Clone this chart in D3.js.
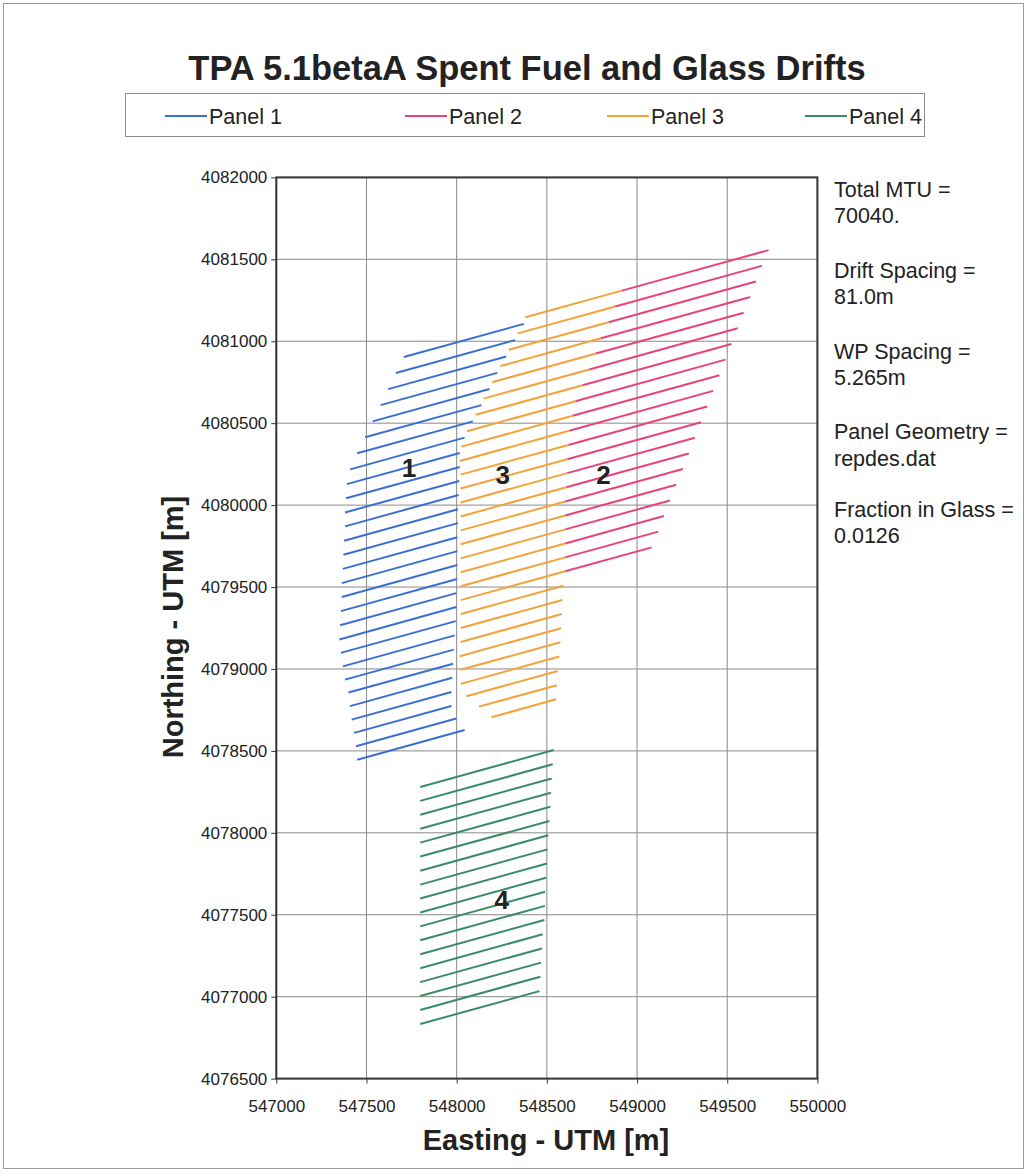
<!DOCTYPE html>
<html>
<head>
<meta charset="utf-8">
<script src="https://cdn.jsdelivr.net/npm/d3@7/dist/d3.min.js"></script>
<style>
  body { margin: 0; background: #fff; }
  svg { display: block; font-family: "Liberation Sans", Arial, sans-serif; }
</style>
</head>
<body>
<svg id="chart" width="1027" height="1173"></svg>
<script>
//=============== data (Easting, Northing of each drift end) ===============
// [x1, y1, x2, y2]
const panel1 = [
	[547707, 4080904, 548372, 4081106], [547663, 4080806, 548324, 4081007],
	[547620, 4080708, 548275, 4080907], [547578, 4080610, 548225, 4080807],
	[547534, 4080511, 548182, 4080709], [547492, 4080414, 548137, 4080610],
	[547449, 4080316, 548090, 4080511], [547409, 4080218, 548044, 4080412],
	[547391, 4080128, 548017, 4080318], [547387, 4080042, 548017, 4080233],
	[547381, 4079955, 548014, 4080147], [547381, 4079870, 548011, 4080062],
	[547376, 4079783, 548007, 4079975], [547372, 4079697, 548007, 4079890],
	[547369, 4079611, 548004, 4079804], [547363, 4079524, 548004, 4079719],
	[547363, 4079439, 548004, 4079634], [547358, 4079353, 548002, 4079549],
	[547354, 4079267, 547998, 4079463], [547350, 4079180, 547998, 4079378],
	[547358, 4079098, 547995, 4079292], [547369, 4079016, 547989, 4079205],
	[547381, 4078935, 547984, 4079118], [547400, 4078856, 547980, 4079032],
	[547409, 4078773, 547976, 4078946], [547418, 4078691, 547971, 4078859],
	[547431, 4078610, 547971, 4078774], [547442, 4078528, 547998, 4078698],
	[547449, 4078446, 548044, 4078627]
];

const panel2 = [
	[548916, 4081309, 549729, 4081556], [548879, 4081212, 549692, 4081460],
	[548842, 4081116, 549659, 4081365], [548800, 4081018, 549628, 4081270],
	[548772, 4080925, 549591, 4081174], [548735, 4080828, 549558, 4081079],
	[548698, 4080731, 549523, 4080983], [548658, 4080634, 549490, 4080888],
	[548643, 4080545, 549457, 4080792], [548624, 4080454, 549422, 4080697],
	[548619, 4080367, 549389, 4080602], [548613, 4080280, 549355, 4080506],
	[548613, 4080195, 549321, 4080411], [548608, 4080109, 549287, 4080315],
	[548602, 4080022, 549254, 4080220], [548602, 4079937, 549217, 4080124],
	[548602, 4079852, 549182, 4080028], [548602, 4079766, 549149, 4079933],
	[548602, 4079681, 549118, 4079838], [548602, 4079596, 549081, 4079742]
];

const panel3 = [
	[548381, 4081146, 548916, 4081309], [548339, 4081048, 548879, 4081212],
	[548289, 4080948, 548842, 4081116], [548241, 4080848, 548800, 4081018],
	[548197, 4080750, 548772, 4080925], [548149, 4080650, 548735, 4080828],
	[548105, 4080551, 548698, 4080731], [548057, 4080451, 548658, 4080634],
	[548026, 4080357, 548643, 4080545], [548017, 4080269, 548624, 4080454],
	[548022, 4080186, 548619, 4080367], [548022, 4080101, 548613, 4080280],
	[548022, 4080016, 548613, 4080195], [548022, 4079931, 548608, 4080109],
	[548022, 4079846, 548602, 4080022], [548022, 4079761, 548602, 4079937],
	[548022, 4079675, 548602, 4079852], [548022, 4079590, 548602, 4079766],
	[548022, 4079505, 548602, 4079681], [548022, 4079420, 548602, 4079596],
	[548022, 4079335, 548591, 4079508], [548022, 4079250, 548586, 4079421],
	[548022, 4079165, 548583, 4079335], [548017, 4079078, 548579, 4079249],
	[548022, 4078995, 548575, 4079163], [548022, 4078909, 548569, 4079076],
	[548054, 4078834, 548560, 4078988], [548123, 4078770, 548556, 4078901],
	[548192, 4078705, 548551, 4078815]
];

const panel4 = [
	[547798, 4078280, 548538, 4078505], [547798, 4078195, 548532, 4078418],
	[547798, 4078110, 548527, 4078332], [547798, 4078025, 548523, 4078245],
	[547798, 4077940, 548519, 4078159], [547798, 4077855, 548514, 4078072],
	[547798, 4077769, 548508, 4077985], [547798, 4077684, 548504, 4077899],
	[547798, 4077599, 548501, 4077813], [547798, 4077514, 548496, 4077726],
	[547798, 4077429, 548490, 4077640], [547798, 4077344, 548490, 4077554],
	[547798, 4077259, 548486, 4077468], [547798, 4077174, 548477, 4077381],
	[547798, 4077089, 548473, 4077294], [547798, 4077004, 548468, 4077208],
	[547798, 4076919, 548464, 4077122], [547798, 4076833, 548459, 4077034]
];

const seriesNames = ["Panel 1", "Panel 2", "Panel 3", "Panel 4"];
const xTicks = [547000, 547500, 548000, 548500, 549000, 549500, 550000];
const yTicks = [4076500, 4077000, 4077500, 4078000, 4078500, 4079000, 4079500, 4080000, 4080500, 4081000, 4081500, 4082000];

// panel number labels (E, N)
const panelLabels = [["1", 547736, 4080226], ["3", 548256, 4080185], ["2", 548814, 4080185], ["4", 548250, 4077588]];

const infoText = ["Total MTU =", "70040.", "Drift Spacing =", "81.0m", "WP Spacing =", "5.265m",
	"Panel Geometry =", "repdes.dat", "Fraction in Glass =", "0.0126"];

//=============== chart ===============
const colors = ["#3a6fd4", "#e8437e", "#f5a23a", "#3a8c62"];

var svg = d3.select("#chart");

// outer frame
svg.append("rect")
	.attr("x", 3.5).attr("y", 3.5)
	.attr("width", 1020).attr("height", 1165)
	.attr("fill", "#fff")
	.attr("stroke", "#9a9a9a")
	.attr("stroke-width", 1);

var x = d3.scaleLinear().domain([547000, 550000]).range([276.3, 817.4]);
var y = d3.scaleLinear().domain([4076500, 4082000]).range([1078.6, 177.4]);

// 격자
svg.append("g").selectAll("line")
	.data(xTicks.slice(1, -1))
	.enter().append("line")
	.attr("x1", d => x(d)).attr("x2", d => x(d))
	.attr("y1", y.range()[1]).attr("y2", y.range()[0])
	.attr("stroke", "#8a8a8a").attr("stroke-width", 1);

svg.append("g").selectAll("line")
	.data(yTicks.slice(1, -1))
	.enter().append("line")
	.attr("y1", d => y(d)).attr("y2", d => y(d))
	.attr("x1", x.range()[0]).attr("x2", x.range()[1])
	.attr("stroke", "#8a8a8a").attr("stroke-width", 1);

// axes
var gx = svg.append("g")
	.attr("transform", `translate(0,${y.range()[0]})`)
	.call(d3.axisBottom(x).tickValues(xTicks).tickFormat(d3.format("d")).tickSize(5).tickPadding(16));
var gy = svg.append("g")
	.attr("transform", `translate(${x.range()[0]},0)`)
	.call(d3.axisLeft(y).tickValues(yTicks).tickFormat(d3.format("d")).tickSize(5).tickPadding(4));

[gx, gy].forEach(g => {
	g.select(".domain").remove();
	g.selectAll("line").attr("stroke", "#333");
	g.selectAll("text")
		.style("font-family", "'Liberation Sans', Arial, sans-serif")
		.style("font-size", "17px")
		.attr("fill", "#222");
});

// drifts
[panel1, panel2, panel3, panel4].forEach((rows, i) => {
	svg.append("g").selectAll("line")
		.data(rows)
		.enter().append("line")
		.attr("x1", d => x(d[0])).attr("y1", d => y(d[1]))
		.attr("x2", d => x(d[2])).attr("y2", d => y(d[3]))
		.attr("stroke", colors[i])
		.attr("stroke-width", 2);
});

// plot border
svg.append("rect")
	.attr("x", x.range()[0]).attr("y", y.range()[1])
	.attr("width", x.range()[1] - x.range()[0])
	.attr("height", y.range()[0] - y.range()[1])
	.attr("fill", "none")
	.attr("stroke", "#333")
	.attr("stroke-width", 2);

// panel numbers
svg.append("g").selectAll("text")
	.data(panelLabels)
	.enter().append("text")
	.attr("x", d => x(d[1])).attr("y", d => y(d[2]))
	.attr("dy", "0.35em")
	.attr("text-anchor", "middle")
	.style("font-size", "26px")
	.style("font-weight", "bold")
	.attr("fill", "#222")
	.text(d => d[0]);

// title
svg.append("text")
	.attr("x", 527).attr("y", 80)
	.attr("text-anchor", "middle")
	.style("font-size", "34.5px")
	.style("font-weight", "bold")
	.attr("fill", "#222")
	.text("TPA 5.1betaA Spent Fuel and Glass Drifts");

// legend
var legend = svg.append("g");
legend.append("rect")
	.attr("x", 125.5).attr("y", 93.5)
	.attr("width", 799).attr("height", 43)
	.attr("fill", "#fff")
	.attr("stroke", "#8a8a8a");

var legendX = [165, 405, 607, 805];
seriesNames.forEach((name, i) => {
	legend.append("line")
		.attr("x1", legendX[i]).attr("x2", legendX[i] + 42)
		.attr("y1", 116).attr("y2", 116)
		.attr("stroke", colors[i]).attr("stroke-width", 2);
	legend.append("text")
		.attr("x", legendX[i] + 44).attr("y", 124)
		.style("font-size", "21.5px")
		.attr("fill", "#222")
		.text(name);
});

// axis titles
svg.append("text")
	.attr("x", 546).attr("y", 1150)
	.attr("text-anchor", "middle")
	.style("font-size", "29px")
	.style("font-weight", "bold")
	.attr("fill", "#222")
	.text("Easting - UTM [m]");

svg.append("text")
	.attr("transform", "translate(183,627) rotate(-90)")
	.attr("text-anchor", "middle")
	.style("font-size", "29px")
	.style("font-weight", "bold")
	.attr("fill", "#222")
	.text("Northing - UTM [m]");

// side notes
var noteY = [197, 223, 278, 304, 359, 385, 439, 466, 517, 543];
svg.append("g").selectAll("text")
	.data(infoText)
	.enter().append("text")
	.attr("x", 834)
	.attr("y", (d, i) => noteY[i])
	.style("font-size", "21.5px")
	.attr("fill", "#222")
	.text(d => d);
</script>
</body>
</html>
